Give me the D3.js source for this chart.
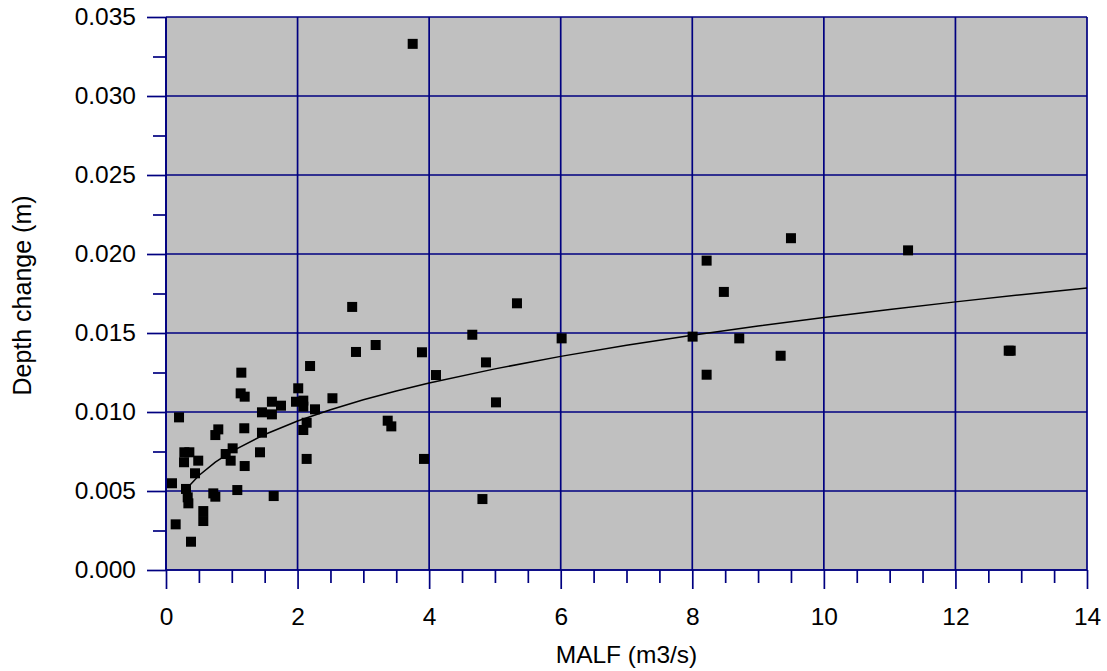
<!DOCTYPE html>
<html>
<head>
<meta charset="utf-8">
<script src="https://cdn.jsdelivr.net/npm/d3@7"></script>
<style>
  html, body { margin: 0; padding: 0; background: #ffffff; }
  svg { display: block; font-family: "Liberation Sans", Arial, sans-serif; }
</style>
</head>
<body>
<svg id="chart" width="1107" height="671"></svg>
<script>
// ---- data ----
const malf = [
  3.75, 2.19, 1.145, 2.01, 1.135, 1.196, 2.53, 1.61, 1.976, 2.087, 1.748, 2.087, 2.265,
  1.459, 1.61, 0.198, 2.138, 0.795, 2.087, 1.19, 0.75, 1.459, 0.279, 0.355, 1.429, 1.013,
  0.907, 0.274, 0.49, 0.983, 2.138, 1.196, 0.441, 0.091, 0.304, 1.084, 0.719, 0.75, 0.33,
  0.34, 1.637, 0.567, 0.567, 0.147, 0.38,
  5.335, 3.187, 2.888, 3.891, 4.656, 6.014, 4.864, 4.104, 5.016, 3.37, 3.425, 3.922, 4.81, 2.83,
  9.5, 11.28, 8.218, 8.48, 8.005, 8.714, 9.343, 8.218, 12.81, 12.84
];
const depthChange = [
  0.0333, 0.01291, 0.01249, 0.0115, 0.01118, 0.01097, 0.01087, 0.01065, 0.01065, 0.01072, 0.0104, 0.01034, 0.01017,
  0.00998, 0.00985, 0.00966, 0.00932, 0.0089, 0.00886, 0.00897, 0.00854, 0.00869, 0.00745, 0.00745, 0.00745, 0.0077,
  0.00734, 0.00682, 0.00692, 0.00692, 0.00703, 0.00658, 0.00612, 0.00549, 0.00513, 0.00506, 0.00485, 0.00464, 0.0046,
  0.00422, 0.00468, 0.00373, 0.0031, 0.00289, 0.00179,
  0.01688, 0.01424, 0.0138, 0.01378, 0.01489, 0.01466, 0.01314, 0.01234, 0.01061, 0.00945, 0.00909, 0.00703, 0.00449, 0.01665,
  0.021, 0.02023, 0.01958, 0.0176, 0.01477, 0.01466, 0.01356, 0.01236, 0.01388, 0.01388
];
// fitted trend line
const trendX = [0.34, 0.5, 0.75, 1, 1.5, 2, 2.5, 3, 3.5, 4, 5, 6, 7, 8, 9, 10, 11, 12, 13, 14];
const trendY = [0.00527, 0.00598, 0.00683, 0.00751, 0.00858, 0.00943, 0.01014, 0.01077, 0.01133, 0.01183,
                0.01273, 0.01352, 0.01422, 0.01486, 0.01544, 0.01598, 0.01649, 0.01697, 0.01742, 0.01785];
const xTicks = [0, 2, 4, 6, 8, 10, 12, 14];
const yTicks = [0, 0.005, 0.010, 0.015, 0.020, 0.025, 0.030, 0.035];
const xTitle = "MALF (m3/s)";
const yTitle = "Depth change (m)";

// ---- layout ----
const L = 166, R = 1087, T = 17, B = 570;
const navy = "#000080";
const svg = d3.select("#chart");

const x = d3.scaleLinear().domain([0, 14]).range([L, R]);
const y = d3.scaleLinear().domain([0, 0.035]).range([B, T]);

// plot background
svg.append("rect").attr("x", L).attr("y", T).attr("width", R - L).attr("height", B - T)
  .attr("fill", "#c0c0c0");

// grid lines
svg.append("g").selectAll("line").data(xTicks).join("line")
  .attr("x1", d => x(d)).attr("x2", d => x(d)).attr("y1", T).attr("y2", B)
  .attr("stroke", navy).attr("stroke-width", 1.7);
svg.append("g").selectAll("line").data(yTicks).join("line")
  .attr("x1", L).attr("x2", R).attr("y1", d => y(d)).attr("y2", d => y(d))
  .attr("stroke", navy).attr("stroke-width", 1.7);

// axes
const minorX = d3.range(0, 14.001, 0.5).filter(v => Math.abs(v / 2 - Math.round(v / 2)) > 1e-6);
const minorY = d3.range(0, 0.03501, 0.0025).filter(v => Math.abs(v / 0.005 - Math.round(v / 0.005)) > 1e-6);

const xAxis = svg.append("g").attr("transform", `translate(0,${B})`)
  .call(d3.axisBottom(x).tickValues(xTicks).tickSize(19).tickPadding(19).tickFormat(d3.format("d")));
const xMinor = svg.append("g").attr("transform", `translate(0,${B})`)
  .call(d3.axisBottom(x).tickValues(minorX).tickSize(13).tickFormat(""));
const yAxis = svg.append("g").attr("transform", `translate(${L},0)`)
  .call(d3.axisLeft(y).tickValues(yTicks).tickSize(19).tickPadding(11).tickFormat(d3.format(".3f")));
const yMinor = svg.append("g").attr("transform", `translate(${L},0)`)
  .call(d3.axisLeft(y).tickValues(minorY).tickSize(13).tickFormat(""));

[xAxis, xMinor, yAxis, yMinor].forEach(g => {
  g.select(".domain").attr("stroke", navy).attr("stroke-width", 1.7);
  g.selectAll(".tick line").attr("stroke", navy).attr("stroke-width", 1.7);
  g.selectAll(".tick text").attr("fill", "#000").attr("font-size", 24.5)
    .attr("font-family", "'Liberation Sans', Arial, sans-serif");
});
xMinor.select(".domain").remove();
yMinor.select(".domain").remove();
xAxis.select(".domain").attr("d", `M${L},0H${R}`);
yAxis.select(".domain").attr("d", `M0,${B}V${T}`);

// trend line
const line = d3.line().x((d, i) => x(trendX[i])).y((d, i) => y(trendY[i]));
svg.append("path").datum(trendY).attr("d", line)
  .attr("fill", "none").attr("stroke", "#000").attr("stroke-width", 1.5);

// points
const s = 10;
svg.append("g").selectAll("rect").data(malf).join("rect")
  .attr("x", (d, i) => x(d) - s / 2).attr("y", (d, i) => y(depthChange[i]) - s / 2)
  .attr("width", s).attr("height", s).attr("fill", "#000");

// titles
svg.append("text").attr("x", (L + R) / 2).attr("y", 663).attr("text-anchor", "middle")
  .attr("font-size", 24.5).attr("fill", "#000").text(xTitle);
svg.append("text").attr("transform", `translate(31,${(T + B) / 2 + 2}) rotate(-90)`)
  .attr("text-anchor", "middle").attr("font-size", 25).attr("fill", "#000").text(yTitle);
</script>
</body>
</html>
